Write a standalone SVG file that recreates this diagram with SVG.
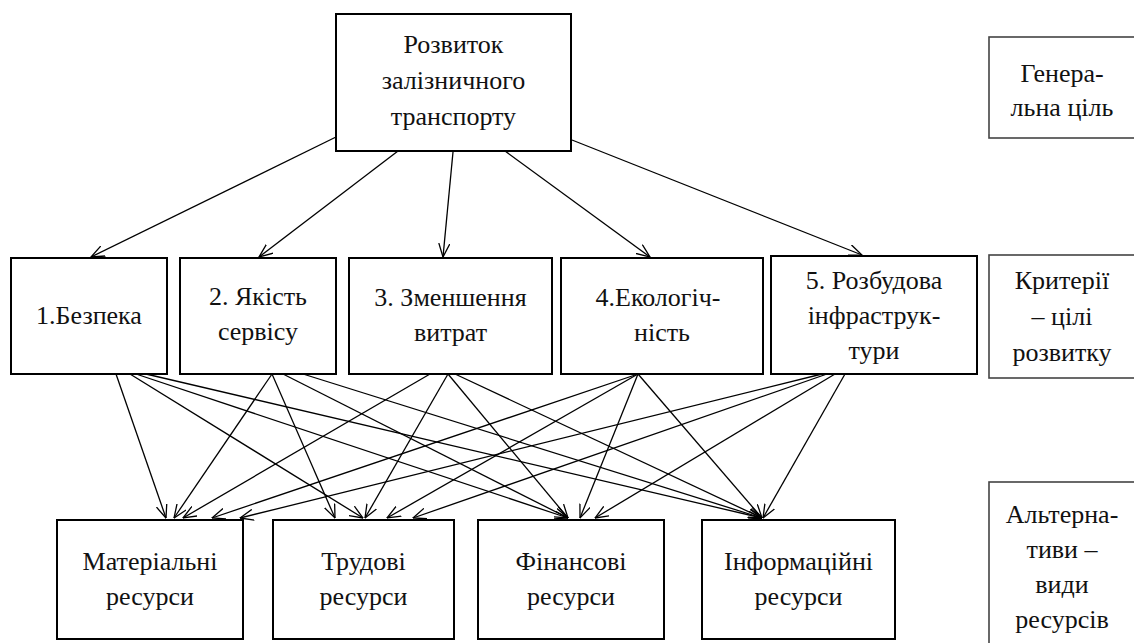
<svg xmlns="http://www.w3.org/2000/svg" width="1134" height="643" viewBox="0 0 1134 643">
<style>
text{font-family:'Liberation Serif','Times New Roman',serif !important;font-size:26px;fill:#111;stroke:none;text-anchor:middle}
.box{fill:#fff;stroke:#000;stroke-width:2}
.side{fill:#fff;stroke:#444;stroke-width:1.6}
</style>
<defs>
<marker id="ah" viewBox="0 0 14 12" refX="13.5" refY="6" markerWidth="14" markerHeight="12" markerUnits="userSpaceOnUse" orient="auto">
<path d="M0,0.5 L13.5,6 L0,11.5" fill="none" stroke="#000" stroke-width="1.3"/>
</marker>
</defs>
<rect width="1134" height="643" fill="#fff"/>
<g id="connectors" stroke="#000" stroke-width="1.3" marker-end="url(#ah)">
<line x1="336" y1="137" x2="91" y2="257"/>
<line x1="398" y1="151" x2="259" y2="257"/>
<line x1="453" y1="152" x2="443" y2="257"/>
<line x1="505" y1="151" x2="650" y2="257"/>
<line x1="572" y1="140" x2="862" y2="255"/>
<line x1="116" y1="374" x2="166" y2="518"/>
<line x1="130" y1="374" x2="363" y2="518"/>
<line x1="136" y1="374" x2="568" y2="518"/>
<line x1="146" y1="374" x2="762" y2="518"/>
<line x1="272" y1="374" x2="174" y2="518"/>
<line x1="272" y1="374" x2="335" y2="518"/>
<line x1="283" y1="374" x2="568" y2="518"/>
<line x1="303" y1="374" x2="762" y2="518"/>
<line x1="430" y1="374" x2="183" y2="518"/>
<line x1="448" y1="374" x2="365" y2="518"/>
<line x1="448" y1="374" x2="568" y2="518"/>
<line x1="455" y1="374" x2="762" y2="518"/>
<line x1="638" y1="374" x2="212" y2="518"/>
<line x1="638" y1="374" x2="387" y2="518"/>
<line x1="638" y1="374" x2="580" y2="518"/>
<line x1="638" y1="374" x2="762" y2="518"/>
<line x1="822" y1="374" x2="240" y2="518"/>
<line x1="827" y1="374" x2="413" y2="518"/>
<line x1="835" y1="374" x2="595" y2="518"/>
<line x1="845" y1="374" x2="763" y2="518"/>
</g>
<g id="goal"><rect class="box" x="336" y="14" width="235" height="137"/>
<text font-family="Liberation Serif" x="453.5" y="53">Розвиток</text><text font-family="Liberation Serif" x="453.5" y="89">залізничного</text><text font-family="Liberation Serif" x="453.5" y="125">транспорту</text></g>
<g id="c1"><rect class="box" x="11" y="258" width="156" height="116"/><text font-family="Liberation Serif" x="89" y="324">1.Безпека</text></g>
<g id="c2"><rect class="box" x="180" y="258" width="156" height="116"/><text font-family="Liberation Serif" x="258" y="305">2. Якість</text><text font-family="Liberation Serif" x="258" y="340">сервісу</text></g>
<g id="c3"><rect class="box" x="349" y="258" width="203" height="116"/><text font-family="Liberation Serif" x="450.5" y="306">3. Зменшення</text><text font-family="Liberation Serif" x="450.5" y="341">витрат</text></g>
<g id="c4"><rect class="box" x="561" y="258" width="202" height="116"/><text font-family="Liberation Serif" x="658" y="306">4.Екологіч-</text><text font-family="Liberation Serif" x="662" y="341">ність</text></g>
<g id="c5"><rect class="box" x="771" y="256" width="206" height="118"/><text font-family="Liberation Serif" x="874" y="289">5. Розбудова</text><text font-family="Liberation Serif" x="874" y="324">інфраструк-</text><text font-family="Liberation Serif" x="874" y="359">тури</text></g>
<g id="r1"><rect class="box" x="57" y="520" width="186" height="119"/><text font-family="Liberation Serif" x="150" y="570">Матеріальні</text><text font-family="Liberation Serif" x="150" y="605">ресурси</text></g>
<g id="r2"><rect class="box" x="273" y="520" width="181" height="119"/><text font-family="Liberation Serif" x="363.5" y="570">Трудові</text><text font-family="Liberation Serif" x="363.5" y="605">ресурси</text></g>
<g id="r3"><rect class="box" x="478" y="520" width="186" height="119"/><text font-family="Liberation Serif" x="571" y="570">Фінансові</text><text font-family="Liberation Serif" x="571" y="605">ресурси</text></g>
<g id="r4"><rect class="box" x="702" y="520" width="193" height="119"/><text font-family="Liberation Serif" x="798.5" y="570">Інформаційні</text><text font-family="Liberation Serif" x="798.5" y="605">ресурси</text></g>
<g id="l1"><rect class="side" x="989" y="37" width="150" height="101"/><text font-family="Liberation Serif" x="1062" y="82">Генера-</text><text font-family="Liberation Serif" x="1062" y="116">льна ціль</text></g>
<g id="l2"><rect class="side" x="989" y="255" width="150" height="123"/><text font-family="Liberation Serif" x="1062" y="289">Критерії</text><text font-family="Liberation Serif" x="1062" y="325">– цілі</text><text font-family="Liberation Serif" x="1062" y="361">розвитку</text></g>
<g id="l3"><rect class="side" x="989" y="482" width="150" height="170"/><text font-family="Liberation Serif" x="1062" y="523">Альтерна-</text><text font-family="Liberation Serif" x="1062" y="558">тиви –</text><text font-family="Liberation Serif" x="1062" y="593">види</text><text font-family="Liberation Serif" x="1062" y="628">ресурсів</text></g>
</svg>
